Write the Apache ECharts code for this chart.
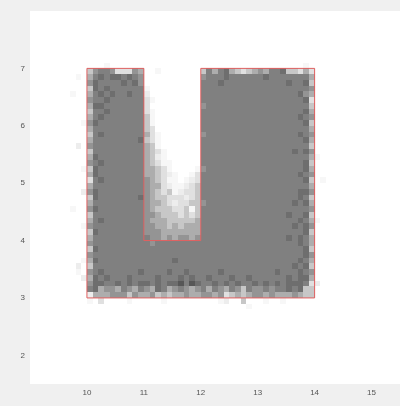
<!DOCTYPE html>
<html><head><meta charset="utf-8">
<script src="https://cdn.jsdelivr.net/npm/echarts@6/dist/echarts.min.js"></script>
<style>html,body{margin:0;padding:0;background:#f0f0f0;}#chart{width:400px;height:406px;}</style>
</head><body><div id="chart"></div>
<script>
// tick labels
const xTickValues = [10, 11, 12, 13, 14, 15];
const yTickValues = [2, 3, 4, 5, 6, 7];
// red outline polygon (data coordinates)
const outlineX = [10, 10, 11, 11, 12, 12, 14, 14, 10];
const outlineY = [3, 7, 7, 4, 4, 7, 7, 3, 3];
// cell grid: columns start at x=9.6, rows start at top y=7.3, step 0.1
const cellOriginX = 9.6;
const cellTopY = 7.3;
const cellStep = 0.1;
// darkness value per code ('.' = no cell)
const levelValues = { a: 0.03, b: 0.07, '1': 0.12, '2': 0.22, '3': 0.32, '4': 0.42, '5': 0.5, '6': 0.57, '7': 0.66, '8': 0.75 };
// segments start at columns 0, 4, 14, 24, 44
const segmentStarts = [0, 4, 14, 24, 44];
const cellRows = [
"....|..........|..........|....................|....",
"....|..........|..........|....................|....",
"....|...a......|..........|..................a.|....",
"....|2455411143|..a.......|25356321234355622131|....",
"..a.|3565665654|..........|45556555555655555553|....",
"....|4655556564|..........|55565555555555565562|....",
"....|2656555555|a.........|55555555555555555554|....",
".a..|3565655655|b.........|55555555555555555643|....",
"....|4556555555|1a........|55555555555555555561|....",
"....|3665555555|1.........|45555555555555555552|....",
"....|2556555555|1a........|55555555555555555563|....",
"....|3565555555|2a........|55555555555555555654|....",
"...a|4655555555|2a........|55555555555555555562|....",
"....|3555555555|21........|55555555555555555553|....",
"....|2565555555|31a.......|45555555555555555654|....",
"....|3555555556|21a.......|55555555555555555563|....",
"..b.|4555555555|32a.......|55555555555555555552|....",
"....|2555555555|321a......|55555555555555556564|....",
"....|3655555555|32ba......|55555555555555555553|a...",
"....|4565555555|321aa.....|55555555555555555562|....",
"...a|2655555555|3321a....a|45555555555555555563|....",
"....|3655555555|3321ba..a1|55555555555555555654|....",
"....|1565555555|4321aa.ab1|55555555555555555562|.a..",
"....|3555555555|4331baab12|55555555555555555553|....",
"...b|4655555555|43212ab112|55555555555555555664|....",
"....|2655555556|4322111b12|55555555555555555652|....",
"....|3555555555|43321b1122|45555555555555556563|....",
".a..|4655555555|43222112a2|55555555555555555554|....",
"....|2555555555|4432221212|55555555555555565562|....",
"....|3565555555|4333222223|55555555555555555653|a...",
"...a|4555555555|4433232333|55555555555555556564|....",
"....|2655555555|4443333333|55555555555555555562|....",
"....|3555555555|5443434434|55555555555555565653|....",
"....|4555555555|5455555555|55555555555555555653|....",
"....|2655555555|5555555555|55555555555555555562|....",
"....|4555555555|5555555555|55555555555555555564|....",
"...a|3655555555|5555565555|55555555555555555653|....",
"..b.|2555555555|5555555555|55555555555555556562|....",
"..a.|4565555556|5555655655|55565555555556555654|....",
"...b|3656555655|5565556565|56555655655555565663|....",
"....|4665565656|6565667576|55656565565656566651|b...",
"....|5634435435|4365345434|53543542544545565622|....",
"....|b333444243|3423233433|44341232344343334322|....",
"....|a.1....a..|...a......|...ab..2...a..a.....|....",
"....|..........|..........|........a...........|....",
"....|..........|..........|....................|...."
];

const cellData = [];
cellRows.forEach(function (row, r) {
  row.split('|').forEach(function (seg, s) {
    for (let i = 0; i < seg.length; i++) {
      const ch = seg[i];
      if (ch === '.') continue;
      const col = segmentStarts[s] + i;
      const x = Math.round((cellOriginX + col * cellStep) * 10) / 10;
      const y = Math.round((cellTopY - (r + 1) * cellStep) * 10) / 10;
      cellData.push([x, y, levelValues[ch]]);
    }
  });
});
const outlineData = outlineX.map(function (x, i) { return [x, outlineY[i]]; });

const chart = echarts.init(document.getElementById('chart'), null, { renderer: 'canvas' });
const labelStyle = { color: '#555555', fontSize: 8, fontFamily: 'Liberation Sans, Arial, sans-serif' };
chart.setOption({
  animation: false,
  backgroundColor: '#f0f0f0',
  grid: { left: 30, top: 11, right: 0, bottom: 22, show: true, backgroundColor: '#ffffff', borderWidth: 0 },
  xAxis: {
    type: 'value', min: 9, max: 15.5,
    axisLine: { show: false }, axisTick: { show: false }, splitLine: { show: false },
    axisLabel: Object.assign({ customValues: xTickValues, margin: 5 }, labelStyle)
  },
  yAxis: {
    type: 'value', min: 1.5, max: 8,
    axisLine: { show: false }, axisTick: { show: false }, splitLine: { show: false },
    axisLabel: Object.assign({ customValues: yTickValues, margin: 5 }, labelStyle)
  },
  visualMap: {
    show: false, type: 'continuous', min: 0, max: 1, dimension: 2, seriesIndex: 0,
    inRange: { color: ['#ffffff', '#000000'] }
  },
  series: [
    {
      type: 'custom',
      data: cellData,
      encode: { x: 0, y: 1 },
      clip: true,
      silent: true,
      renderItem: function (params, api) {
        const x = api.value(0), y = api.value(1);
        const a = api.coord([x, y + cellStep]);
        const b = api.coord([x + cellStep, y]);
        const x0 = Math.round(a[0]), y0 = Math.round(a[1]);
        const x1 = Math.round(b[0]), y1 = Math.round(b[1]);
        return {
          type: 'rect',
          shape: { x: x0, y: y0, width: x1 - x0, height: y1 - y0 },
          style: { fill: api.visual('color') }
        };
      }
    },
    {
      type: 'line',
      data: outlineData,
      symbol: 'none',
      silent: true,
      z: 5,
      lineStyle: { color: '#e06060', width: 1 }
    }
  ]
});
</script>
</body></html>
